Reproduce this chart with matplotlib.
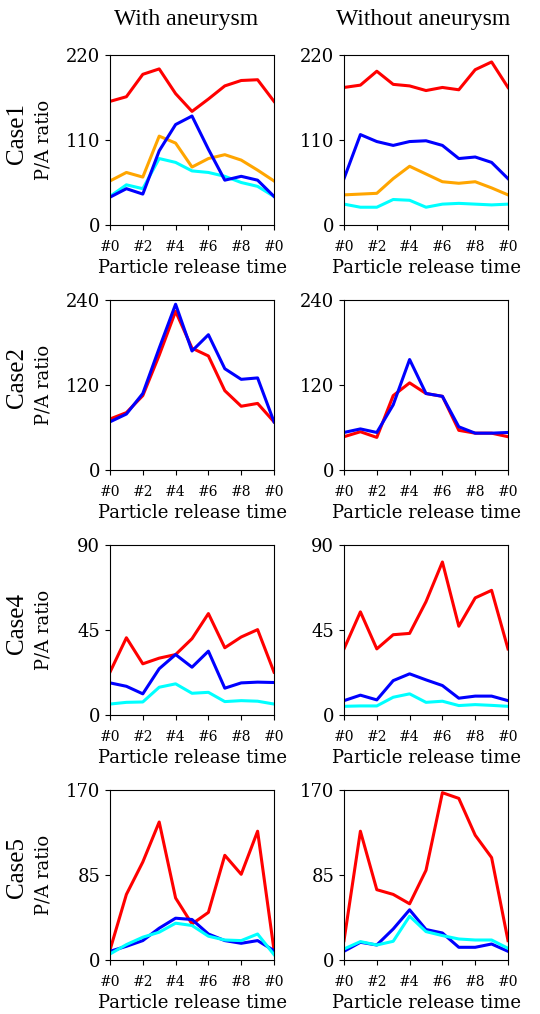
import matplotlib
matplotlib.use("Agg")
import matplotlib.pyplot as plt

plt.rcParams['font.family'] = ['DejaVu Serif']

x = list(range(11))
xtick_pos = [0, 2, 4, 6, 8, 10]
xtick_labels = ["#0", "#2", "#4", "#6", "#8", "#0"]
col_titles = ["With aneurysm", "Without aneurysm"]
row_names = ["Case1", "Case2", "Case4", "Case5"]
ymax = [220, 240, 90, 170]

# Case1
c1_with_red = [160, 166, 195, 202, 170, 147, 163, 180, 187, 188, 160]
c1_with_blue = [36, 47, 40, 96, 130, 141, 98, 58, 63, 58, 37]
c1_with_orange = [57, 68, 62, 115, 106, 75, 86, 91, 84, 71, 57]
c1_with_cyan = [37, 52, 47, 86, 81, 70, 68, 63, 55, 50, 37]
c1_wo_red = [178, 181, 199, 182, 180, 174, 178, 175, 201, 211, 178]
c1_wo_blue = [60, 117, 108, 103, 108, 109, 103, 86, 88, 81, 60]
c1_wo_orange = [39, 40, 41, 60, 76, 66, 56, 54, 56, 48, 39]
c1_wo_cyan = [27, 23, 23, 33, 32, 23, 27, 28, 27, 26, 27]

# Case2
c2_with_red = [72, 81, 105, 162, 224, 172, 161, 112, 90, 94, 68]
c2_with_blue = [68, 79, 108, 172, 234, 168, 191, 143, 128, 130, 68]
c2_wo_red = [47, 54, 46, 105, 123, 108, 104, 56, 52, 52, 47]
c2_wo_blue = [53, 58, 53, 92, 156, 108, 104, 61, 52, 52, 53]

# Case4
c4_with_red = [22.7, 40.9, 27.1, 30.1, 32, 40.4, 53.7, 35.6, 41.3, 45.2, 22.7]
c4_with_blue = [17, 15.2, 11.2, 24.5, 32, 25.3, 33.8, 14.2, 17, 17.4, 17.2]
c4_with_cyan = [5.8, 6.7, 6.9, 14.7, 16.5, 11.5, 12, 7.1, 7.6, 7.3, 5.8]
c4_wo_red = [35, 54.6, 35, 42.5, 43.2, 60, 81, 47, 62, 66, 35]
c4_wo_blue = [7.6, 10.5, 8, 18.2, 21.8, 18.6, 15.6, 8.9, 10, 10, 7.6]
c4_wo_cyan = [4.6, 4.8, 4.8, 9.4, 11.2, 6.7, 7.3, 5, 5.5, 5.1, 4.6]

# Case5
c5_with_red = [10, 65.6, 98, 138, 62, 36, 47.6, 104.7, 85.7, 128.8, 10]
c5_with_blue = [8.7, 13.7, 19.4, 31.8, 41.8, 40.5, 26, 19.4, 16.7, 19.4, 9.4]
c5_with_cyan = [6, 15.4, 22.8, 27.8, 36.8, 34.5, 23.8, 20, 19.4, 26, 5.4]
c5_wo_red = [19.4, 128.8, 70.3, 65.6, 56.2, 89.7, 167.3, 161.6, 124.8, 102.4, 19.4]
c5_wo_blue = [8.7, 17.7, 15, 31, 50.2, 30.5, 27, 12.7, 12.7, 16, 8.7]
c5_wo_cyan = [11, 18.4, 15, 18.7, 43.8, 28.4, 24.4, 21, 20, 20, 11.7]

panels = [
    [[("red", c1_with_red), ("orange", c1_with_orange), ("cyan", c1_with_cyan), ("blue", c1_with_blue)],
     [("red", c1_wo_red), ("orange", c1_wo_orange), ("cyan", c1_wo_cyan), ("blue", c1_wo_blue)]],
    [[("red", c2_with_red), ("blue", c2_with_blue)],
     [("red", c2_wo_red), ("blue", c2_wo_blue)]],
    [[("red", c4_with_red), ("cyan", c4_with_cyan), ("blue", c4_with_blue)],
     [("red", c4_wo_red), ("cyan", c4_wo_cyan), ("blue", c4_wo_blue)]],
    [[("red", c5_with_red), ("blue", c5_with_blue), ("cyan", c5_with_cyan)],
     [("red", c5_wo_red), ("blue", c5_wo_blue), ("cyan", c5_wo_cyan)]],
]

W, H = 540, 1014
fig = plt.figure(figsize=(W / 100, H / 100), dpi=100)

col_left = [110, 344]
ax_w = 164
row_top = [55, 300, 545, 790]
ax_h = 170

for r in range(4):
    for c in range(2):
        ax = fig.add_axes([col_left[c] / W, 1 - (row_top[r] + ax_h) / H, ax_w / W, ax_h / H])
        for color, vals in panels[r][c]:
            ax.plot(x, vals, color=color, lw=2.2)
        ax.set_xlim(0, 10)
        ax.set_ylim(0, ymax[r])
        ax.set_yticks([0, ymax[r] // 2, ymax[r]])
        ax.set_xticks(xtick_pos)
        ax.set_xticklabels(xtick_labels, fontsize=10)
        ax.tick_params(axis='x', pad=7)
        ax.tick_params(axis='y', labelsize=13)
        ax.set_xlabel("Particle release time", fontsize=13, labelpad=4)
    yc = 1 - (row_top[r] + ax_h / 2) / H
    fig.text(17 / W, yc + 7 / H, row_names[r], rotation=90, ha='center', va='center',
             fontsize=18, family='Liberation Serif')
    fig.text(43 / W, yc, "P/A ratio", rotation=90, ha='center', va='center', fontsize=13)

fig.text(186 / W, 1 - 20 / H, col_titles[0], ha='center', va='center', fontsize=17,
         family='Liberation Serif')
fig.text(423 / W, 1 - 20 / H, col_titles[1], ha='center', va='center', fontsize=17,
         family='Liberation Serif')

fig.savefig("out.png", dpi=100)
